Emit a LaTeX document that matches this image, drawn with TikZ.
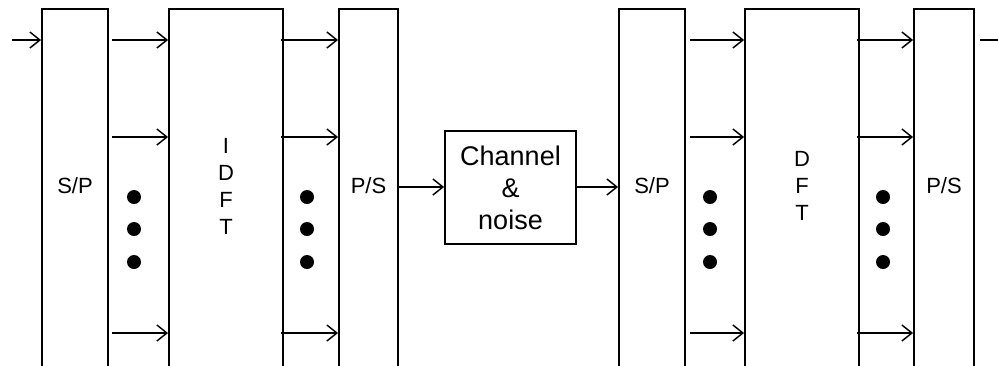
\documentclass[tikz,border=0pt]{standalone}
\usepackage{fontspec}
\setmainfont{Liberation Sans}
\usetikzlibrary{arrows.meta,calc}
\begin{document}
\begin{tikzpicture}[x=0.75pt,y=-0.75pt,
  blk/.style={draw, line width=1.4pt, minimum height=273pt, inner sep=0pt, anchor=north},
  lbl/.style={inner sep=0pt, align=center, font=\fontsize{16.5}{20.25}\selectfont},
  chan/.style={draw, line width=1.4pt, minimum width=98.25pt, minimum height=84.75pt, inner sep=0pt, align=center, font=\fontsize{20.25}{24}\selectfont},
  arr/.style={line width=1.1pt, -{Straight Barb[length=7.5pt,width=12pt]}},
  ln/.style={line width=1.1pt},
  dotc/.style={fill=black}
]
\useasboundingbox (0,0) rectangle (998,365);
\clip (0,0) rectangle (998,365);
% rows
\coordinate (r1) at (0,40);
\coordinate (r2) at (0,137);
\coordinate (r3) at (0,333);
\coordinate (rm) at (0,187);
% blocks
\node[blk, minimum width=49.5pt] (spA) at (75,8) {};
\node[blk, minimum width=85.5pt] (idft) at (226,8) {};
\node[blk, minimum width=44.25pt] (psA) at (368.5,8) {};
\node[blk, minimum width=49.5pt] (spB) at (652,8) {};
\node[blk, minimum width=85.5pt] (dft) at (802,8) {};
\node[blk, minimum width=45pt] (psB) at (944,8) {};
\node[chan] (ch) at (510.5,187.5) {Channel\\\&\\noise};
% labels
\node[lbl] (spAt) at (75,186) {S/P};
\node[lbl] (idftt) at (226,186.5) {I\\D\\F\\T};
\node[lbl] (psAt) at (368.5,186) {P/S};
\node[lbl] (spBt) at (652,186) {S/P};
\node[lbl] (dftt) at (802,186) {D\\F\\T};
\node[lbl] (psBt) at (944,186) {P/S};
% input / output
\coordinate (in) at (12,40);
\coordinate (out) at (1002,40);
\draw[arr] (in) -- (spA.west |- r1);
\draw[ln] ($(psB.east |- r1)+(5,0)$) -- (out);
% parallel arrows
\foreach \r in {r1,r2,r3}{
  \draw[arr, shorten <=2.25pt] (spA.east |- \r) -- (idft.west |- \r);
  \draw[arr, shorten <=-2.25pt] (idft.east |- \r) -- (psA.west |- \r);
  \draw[arr, shorten <=3pt] (spB.east |- \r) -- (dft.west |- \r);
  \draw[arr, shorten <=-2.25pt] (dft.east |- \r) -- (psB.west |- \r);
}
% channel arrows
\draw[arr] (psA.east |- rm) -- (ch.west |- rm);
\draw[arr] (ch.east |- rm) -- (spB.west |- rm);
% dots
\foreach \x in {134,307,710,883}{
  \foreach \y in {197,229,262}{
    \fill[dotc] (\x,\y) circle[radius=7];
  }
}
\end{tikzpicture}
\end{document}
